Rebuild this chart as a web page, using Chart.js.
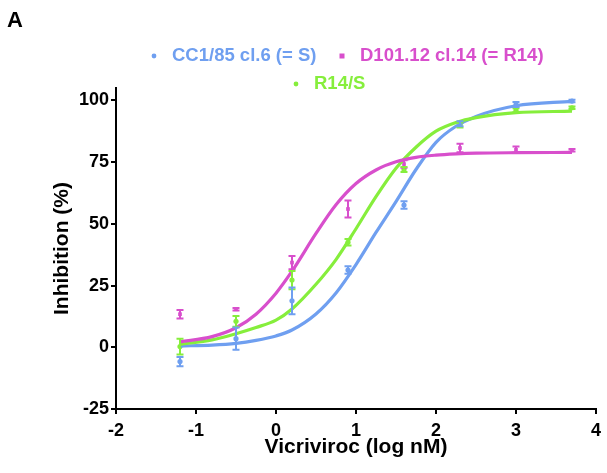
<!DOCTYPE html>
<html>
<head>
<meta charset="utf-8">
<script src="https://cdn.jsdelivr.net/npm/chart.js@4.4.1/dist/chart.umd.min.js"></script>
<style>
  html, body { margin: 0; padding: 0; background: #fff; }
</style>
</head>
<body>
<canvas id="doseChart" width="607" height="473"></canvas>
<script>
// doses (log nM) where the measurements were taken
const doseX = [-1.2, -0.5, 0.2, 0.9, 1.6, 2.3, 3.0, 3.7];

// measured inhibition (%) and error bars
const sMean   = [-5.8, 3.5, 18.8, 31.3, 57.6, 90.5, 98.3, 99.7];
const sErr    = [1.9, 4.5, 5.4, 1.5, 1.5, 1.0, 1.0, 0.5];
const r14Mean = [13.4, 15.4, 34.3, 56.0, 74.2, 80.7, 80.0, 79.8];
const r14Err  = [1.7, 0.5, 2.7, 3.4, 1.5, 1.7, 1.3, 0.5];
const mixMean = [0.3, 10.5, 27.2, 42.5, 72.0, 90.0, 96.0, 97.0];
const mixErr  = [3.2, 2.2, 3.7, 1.3, 1.0, 1.0, 0.8, 0.5];

// fitted curves
const fitX   = [-1.2, -0.8, -0.5, -0.25, 0, 0.2, 0.5, 0.75, 1, 1.25, 1.5, 1.75, 2, 2.25, 2.5, 3, 3.7];
const fitS   = [0.5, 0.9, 1.6, 2.8, 4.6, 7.0, 13.5, 22.0, 33.5, 46.5, 59.0, 72.0, 83.0, 89.5, 93.5, 97.8, 99.6];
const fitR14 = [2.2, 4.3, 7.9, 13.4, 21.9, 30.8, 46.1, 57.7, 66.3, 71.8, 75.1, 76.9, 77.8, 78.3, 78.6, 78.8, 78.9];
const fitMix = [1.2, 3.0, 5.5, 8.0, 11.0, 15.5, 25.5, 35.5, 48.0, 61.0, 72.5, 81.0, 87.5, 91.0, 93.0, 95.0, 95.6];

const xTicks = [-2, -1, 0, 1, 2, 3, 4];
const yTicks = [-25, 0, 25, 50, 75, 100];

const seriesNames  = ['CC1/85 cl.6 (= S)', 'D101.12 cl.14 (= R14)', 'R14/S'];
const seriesColors = ['#6f9ff0', '#d84fcc', '#86ee3c'];
const seriesShapes = ['circle', 'rect', 'circle'];

const FONT = '"Liberation Sans", Arial, Helvetica, sans-serif';

function points(xs, ys) {
  return xs.map((x, i) => ({ x: x, y: ys[i] }));
}

function curve(ys, color) {
  return {
    type: 'line',
    data: points(fitX, ys),
    borderColor: color,
    borderWidth: 3.2,
    pointRadius: 0,
    cubicInterpolationMode: 'monotone',
    fill: false
  };
}

function measured(ys, errs, color, shape) {
  return {
    type: 'scatter',
    data: points(doseX, ys),
    errors: errs,
    backgroundColor: color,
    borderColor: color,
    pointStyle: shape,
    pointRadius: 2.6,
    borderWidth: 0
  };
}

// vertical error bars with caps, drawn through the chart's scales
const errorBars = {
  id: 'errorBars',
  afterDatasetsDraw(chart) {
    const ctx = chart.ctx;
    const yScale = chart.scales.y;
    chart.data.datasets.forEach((ds, di) => {
      if (!ds.errors) return;
      const meta = chart.getDatasetMeta(di);
      ctx.save();
      ctx.strokeStyle = ds.borderColor;
      ctx.lineWidth = 2;
      meta.data.forEach((pt, i) => {
        const v = ds.data[i].y, e = ds.errors[i];
        const top = yScale.getPixelForValue(v + e);
        const bot = yScale.getPixelForValue(v - e);
        ctx.beginPath();
        ctx.moveTo(pt.x, top); ctx.lineTo(pt.x, bot);
        ctx.moveTo(pt.x - 3.5, top); ctx.lineTo(pt.x + 3.5, top);
        ctx.moveTo(pt.x - 3.5, bot); ctx.lineTo(pt.x + 3.5, bot);
        ctx.stroke();
      });
      ctx.restore();
    });
  }
};

// legend in two rows plus the panel letter
const panelLegend = {
  id: 'panelLegend',
  afterDraw(chart) {
    const ctx = chart.ctx;
    ctx.save();
    ctx.font = 'bold 22px ' + FONT;
    ctx.fillStyle = '#000';
    ctx.textBaseline = 'alphabetic';
    ctx.fillText('A', 7, 27);

    const spots = [[154, 56], [342, 56], [296, 84]];
    ctx.font = 'bold 18.5px ' + FONT;
    ctx.textBaseline = 'middle';
    seriesNames.forEach((name, i) => {
      const [mx, my] = spots[i];
      ctx.fillStyle = seriesColors[i];
      if (seriesShapes[i] === 'rect') {
        ctx.fillRect(mx - 2.5, my - 2.5, 5, 5);
      } else {
        ctx.beginPath();
        ctx.arc(mx, my, 2.4, 0, Math.PI * 2);
        ctx.fill();
      }
      ctx.fillText(name, mx + 18, my);
    });
    ctx.restore();
  }
};

const ctx = document.getElementById('doseChart').getContext('2d');
const doseChart = new Chart(ctx, {
  type: 'scatter',
  data: {
    datasets: [
      curve(fitR14, seriesColors[1]),
      curve(fitMix, seriesColors[2]),
      curve(fitS, seriesColors[0]),
      measured(r14Mean, r14Err, seriesColors[1], seriesShapes[1]),
      measured(mixMean, mixErr, seriesColors[2], seriesShapes[2]),
      measured(sMean, sErr, seriesColors[0], seriesShapes[0])
    ]
  },
  options: {
    responsive: false,
    animation: false,
    devicePixelRatio: 1,
    layout: {
      padding: { top: 88, left: 50, right: 10, bottom: 13 }
    },
    plugins: {
      legend: { display: false },
      tooltip: { enabled: false }
    },
    scales: {
      x: {
        type: 'linear',
        min: -2,
        max: 4,
        afterBuildTicks: s => { s.ticks = xTicks.map(v => ({ value: v })); },
        afterFit: s => { s.height = 51; },
        grid: { display: true, drawOnChartArea: false, drawTicks: true, tickLength: 5, color: '#000', lineWidth: 2 },
        border: { display: true, color: '#000', width: 2 },
        ticks: { color: '#000', padding: 6, font: { family: FONT, size: 18, weight: 'bold' }, maxRotation: 0 },
        title: {
          display: true,
          text: 'Vicriviroc (log nM)',
          color: '#000',
          padding: { top: 0, bottom: 0 },
          font: { family: FONT, size: 21, weight: 'bold' }
        }
      },
      y: {
        type: 'linear',
        min: -25,
        max: 105,
        afterBuildTicks: s => { s.ticks = yTicks.map(v => ({ value: v })); },
        afterFit: s => { s.width = 66; },
        grid: { display: true, drawOnChartArea: false, drawTicks: true, tickLength: 5, color: '#000', lineWidth: 2 },
        border: { display: true, color: '#000', width: 2 },
        ticks: { color: '#000', padding: 2, font: { family: FONT, size: 18, weight: 'bold' } },
        title: {
          display: true,
          text: 'Inhibition (%)',
          color: '#000',
          padding: { top: 0, bottom: 0 },
          font: { family: FONT, size: 21, weight: 'bold' }
        }
      }
    }
  },
  plugins: [errorBars, panelLegend]
});
</script>
</body>
</html>
